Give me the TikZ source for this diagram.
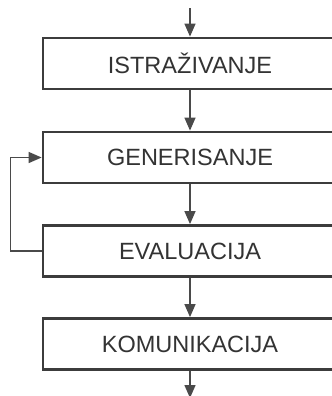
\documentclass[tikz,border=0pt]{standalone}
\usepackage{fontspec}
\setmainfont{Liberation Sans}
\usetikzlibrary{arrows.meta}
\definecolor{boxline}{HTML}{3C3C3C}
\definecolor{flowline}{HTML}{4A4A4A}
\definecolor{labeltext}{HTML}{333333}
\begin{document}
\begin{tikzpicture}[x=1bp,y=-1bp,
  stage/.style={draw=boxline, line width=2.8bp, fill=white,
    minimum width=294bp, minimum height=51bp, inner sep=0pt,
    text=labeltext, font=\fontsize{23.6}{26}\selectfont},
  flow/.style={draw=flowline, line width=1.4bp,
    -{Triangle[length=13bp,width=11bp]}}]
  \useasboundingbox (0,0) rectangle (332,396);
  \clip (0,0) rectangle (332,396);
  % process stages
  \node[stage] (istr) at (190,63.5) {ISTRAŽIVANJE};
  \node[stage] (gen)  at (190,157.5) {GENERISANJE};
  \node[stage] (eval) at (190,251) {EVALUACIJA};
  \node[stage] (kom)  at (190,344) {KOMUNIKACIJA};
  % entry and exit points
  \coordinate (in) at (190,8);
  \coordinate (out) at (190,398);
  % connectors
  \draw[flow] (in) -- (istr.north);
  \draw[flow] (istr) -- (gen);
  \draw[flow] (gen) -- (eval);
  \draw[flow] (eval) -- (kom);
  \draw[flow] (kom.south) -- (out);
  % feedback loop
  \draw[flow] (eval.west) -- ++(-31,0) |- (gen.west);
\end{tikzpicture}
\end{document}
